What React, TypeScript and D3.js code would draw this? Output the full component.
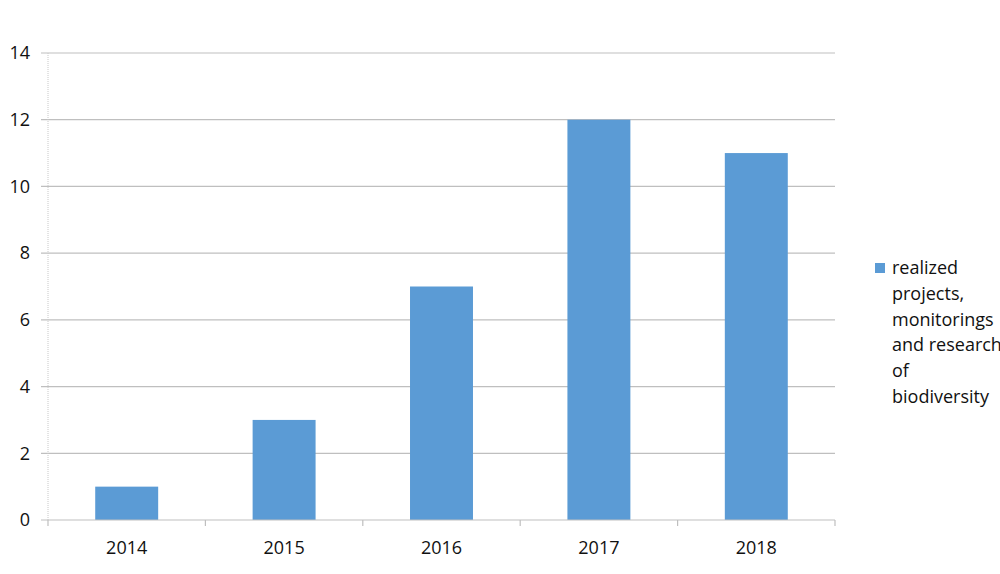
import React from "react";
import * as d3 from "d3";

const categories = ["2014", "2015", "2016", "2017", "2018"];
const values = [1, 3, 7, 12, 11];
const yTicks = [0, 2, 4, 6, 8, 10, 12, 14];
const legendLines = ["realized", "projects,", "monitorings", "and research", "of", "biodiversity"];

export default function App() {
  const W = 1000, H = 574;
  const left = 48, right = 835, top = 53, bottom = 520;
  const x = d3.scaleBand().domain(categories).range([left, right]).paddingInner(0.6).paddingOuter(0.3);
  const xb = d3.scaleBand().domain(categories).range([left, right]);
  const y = d3.scaleLinear().domain([0, 14]).range([bottom, top]);
  const font = "'Open Sans', Lato, sans-serif";
  const color = "#5B9BD5";
  return (
    <svg width={W} height={H} style={{ position: "absolute", left: 0, top: 0, background: "#fff" }} fontFamily={font}>
      {yTicks.map((t) => (
        <g key={t}>
          {t > 0 && <line x1={left - 7} x2={right} y1={y(t)} y2={y(t)} stroke="#BFBFBF" strokeWidth={1.2} />}
          <text x={30} y={y(t)} dy="0.35em" textAnchor="end" fontSize={18} fill="#111">{t}</text>
        </g>
      ))}
      <line x1={left} x2={left} y1={top} y2={bottom} stroke="#C8C8C8" strokeWidth={1} strokeDasharray="1,1" />
      {categories.map((c, i) => (
        <rect key={c} x={x(c)} y={y(values[i])} width={x.bandwidth()} height={y(0) - y(values[i])} fill={color} />
      ))}
      <line x1={left - 7} x2={right} y1={bottom} y2={bottom} stroke="#BFBFBF" strokeWidth={1.2} />
      {[...categories.map((c) => xb(c) as number), right].map((v, i) => (
        <line key={i} x1={v} x2={v} y1={bottom} y2={bottom + 6} stroke="#BFBFBF" strokeWidth={1.2} />
      ))}
      {categories.map((c) => (
        <text key={c} x={(xb(c) as number) + xb.bandwidth() / 2} y={548} dy="0.35em" textAnchor="middle" fontSize={18} fill="#111">{c}</text>
      ))}
      <rect x={875} y={263} width={10} height={10} fill={color} />
      {legendLines.map((l, i) => (
        <text key={i} x={892} y={268 + i * 25.7} dy="0.35em" fontSize={18} fill="#111">{l}</text>
      ))}
    </svg>
  );
}
